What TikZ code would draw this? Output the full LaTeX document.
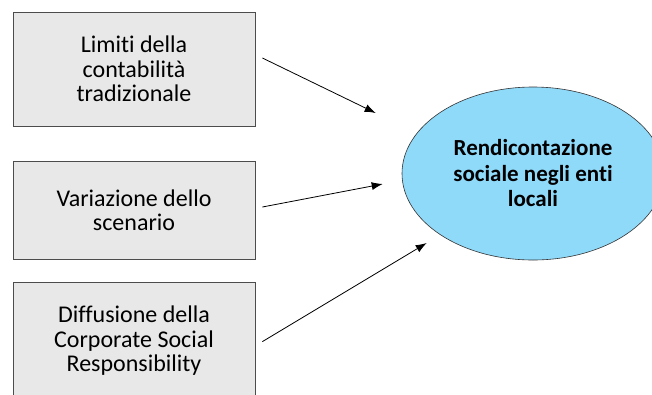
\documentclass[tikz,border=0pt]{standalone}
\usepackage{fontspec}
\setmainfont[RawFeature={-liga;-clig;-calt}]{Carlito}
\usepackage{tikz}
\usetikzlibrary{shapes}
\usetikzlibrary{arrows.meta}
\definecolor{boxgray}{RGB}{232,232,232}
\definecolor{ellblue}{RGB}{143,217,249}
\tikzset{
  causa/.style={draw=black!70, fill=boxgray, line width=0.8pt, minimum width=242pt, align=center, inner sep=0pt, font=\fontsize{24}{24.5}\selectfont},
  freccia/.style={-{Latex[length=11pt,width=8pt]}, black, line width=0.8pt}
}

\begin{document}
\begin{tikzpicture}[x=1pt, y=-1pt]
\useasboundingbox (0,0) rectangle (652,394);
\clip (0,0) rectangle (652,394);
\node (limiti) [causa, minimum height=114pt] at (134,69) {Limiti della\\contabilità\\tradizionale};
\node (scenario) [causa, minimum height=98pt] at (134,210) {Variazione dello\\scenario};
\node (csr) [causa, minimum height=118pt] at (134,341) {Diffusione della\\Corporate Social\\Responsibility};
\node (rend) [ellipse, draw=black!80, fill=ellblue, line width=0.6pt, minimum width=262pt, minimum height=173pt, inner sep=0pt, align=center, font=\fontsize{23}{25.5}\selectfont\bfseries] at (533,173.5) {Rendicontazione\\sociale negli enti\\locali};
\draw [freccia] ([xshift=7pt,yshift=11pt] limiti.east) -- ([xshift=-26pt,yshift=60.5pt] rend.west);
\draw [freccia] ([xshift=7pt,yshift=3pt] scenario.east) -- ([xshift=-19pt,yshift=-10.5pt] rend.west);
\draw [freccia] ([xshift=7pt,yshift=-60pt] csr.north east) -- ([xshift=25pt,yshift=-69.5pt] rend.west);
\end{tikzpicture}
\end{document}
